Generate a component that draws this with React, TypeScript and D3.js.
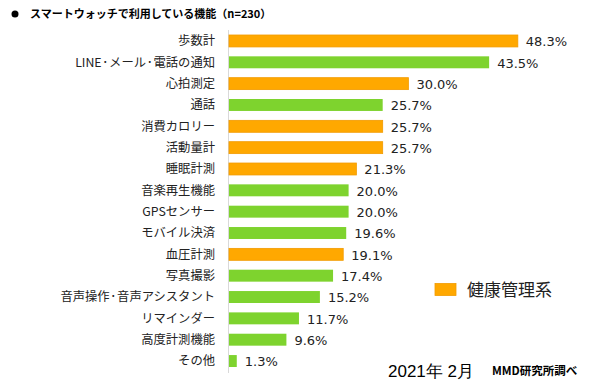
import { useRef, useEffect } from 'react';
import * as d3 from 'd3';

const categories = [
  '歩数計', 'LINE・メール・電話の通知', '心拍測定', '通話', '消費カロリー', '活動量計',
  '睡眠計測', '音楽再生機能', 'GPSセンサー', 'モバイル決済', '血圧計測', '写真撮影',
  '音声操作・音声アシスタント', 'リマインダー', '高度計測機能', 'その他',
];
const values = [48.3, 43.5, 30.0, 25.7, 25.7, 25.7, 21.3, 20.0, 20.0, 19.6, 19.1, 17.4, 15.2, 11.7, 9.6, 1.3];
// true = 健康管理系
const health = [true, false, true, false, true, true, true, false, false, false, true, false, false, false, false, false];

const W = 590;
const H = 384;
const ORANGE = '#FFA800';
const GREEN = '#7ED32E';
const JP = '"Noto Sans CJK JP", "Noto Sans", sans-serif';

export default function App() {
  const svgRef = useRef<SVGSVGElement>(null);

  useEffect(() => {
    const svg = d3.select(svgRef.current);
    svg.selectAll('*').remove();

    const left = 229;
    const x = d3.scaleLinear().domain([0, 50]).range([left, left + 299]);
    const y = d3.scaleBand<string>().domain(categories).range([30.3, 371.7]).paddingInner(0.44).paddingOuter(0.22);

    svg.append('rect').attr('width', W).attr('height', H).attr('fill', '#fff');

    // title
    svg.append('circle').attr('cx', 15).attr('cy', 14).attr('r', 3.5).attr('fill', '#000');
    svg.append('text').attr('x', 30).attr('y', 18)
      .attr('font-family', JP).attr('font-size', 11).attr('font-weight', 'bold')
      .text('スマートウォッチで利用している機能（n=230）');

    // axis line
    svg.append('line').attr('x1', left - 0.5).attr('x2', left - 0.5).attr('y1', 30).attr('y2', 373)
      .attr('stroke', '#d9d9d9').attr('stroke-width', 1);

    // bars
    svg.append('g').selectAll('rect').data(values).join('rect')
      .attr('x', x(0))
      .attr('y', (_, i) => y(categories[i])!)
      .attr('width', d => x(d) - x(0))
      .attr('height', y.bandwidth())
      .attr('fill', (_, i) => (health[i] ? ORANGE : GREEN))
      .attr('stroke', (_, i) => (health[i] ? '#F29B00' : 'none'))
      .attr('stroke-width', 0.8);

    // category labels (middle dot drawn narrower like the original)
    const labels = svg.append('g').selectAll('text').data(categories).join('text')
      .attr('x', 215)
      .attr('y', d => y(d)! + y.bandwidth() / 2 + 4.4)
      .attr('text-anchor', 'end')
      .attr('font-family', JP).attr('font-size', 12.3).attr('fill', '#222');
    labels.each(function (d) {
      const t = d3.select(this);
      let lift = 0;
      d.split(/(・)/).forEach(part => {
        if (part === '・') {
          t.append('tspan').attr('dy', -2).attr('font-size', 7.5).attr('font-weight', 'bold').text(part);
          lift = 2;
        } else if (part) {
          const s = t.append('tspan').text(part);
          if (lift) s.attr('dy', lift);
          lift = 0;
        }
      });
    });

    // value labels
    svg.append('g').selectAll('text').data(values).join('text')
      .attr('x', d => x(d) + 8)
      .attr('y', (_, i) => y(categories[i])! + y.bandwidth() / 2)
      .attr('dy', '0.4em')
      .attr('font-family', '"DejaVu Sans", Verdana, sans-serif').attr('font-size', 13).attr('fill', '#222')
      .text(d => `${d.toFixed(1)}%`);

    // legend
    svg.append('rect').attr('x', 435).attr('y', 283.5).attr('width', 21).attr('height', 12)
      .attr('fill', ORANGE).attr('stroke', '#F29B00').attr('stroke-width', 0.8);
    svg.append('text').attr('x', 467).attr('y', 296)
      .attr('font-family', JP).attr('font-size', 17).attr('fill', '#222')
      .text('健康管理系');

    // footer
    svg.append('text').attr('x', 388).attr('y', 377)
      .attr('font-family', '"Liberation Sans Narrow", "Liberation Sans", sans-serif').attr('font-size', 17).attr('fill', '#000')
      .text('2021年 2月');
    svg.append('text').attr('x', 492).attr('y', 375)
      .attr('font-family', JP).attr('font-size', 11.5).attr('font-weight', 'bold').attr('fill', '#000')
      .text('MMD研究所調べ');
  }, []);

  return (
    <svg ref={svgRef} width={W} height={H}
      style={{ position: 'absolute', left: 0, top: 0, display: 'block' }} />
  );
}
